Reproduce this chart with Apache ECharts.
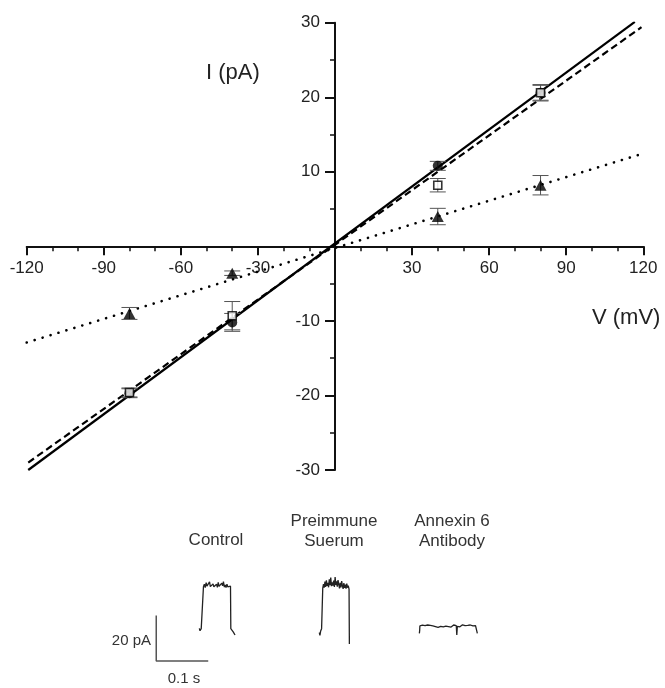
<!DOCTYPE html>
<html>
<head>
<meta charset="utf-8">
<script src="https://cdn.jsdelivr.net/npm/echarts@6/dist/echarts.min.js"></script>
<style>
html,body{margin:0;padding:0;background:#fff;}
#chart{width:665px;height:688px;}
</style>
</head>
<body>
<div id="chart"></div>
<script>
// ---- I-V data (V in mV, I in pA) ----
const voltages = [-80, -40, 40, 80];
const controlI = [-19.7, -10.2, 10.8, 20.6];
const controlErr = [0.6, 1.2, 0.6, 1.0];
const preimmuneI = [-19.6, -9.3, 8.2, 20.6];
const preimmuneErr = [0.6, 1.9, 0.9, 1.1];
const antibodyI = [-9.0, -3.6, 4.0, 8.2];
const antibodyErr = [0.8, 0.3, 1.1, 1.3];

// linear fits (endpoints as drawn)
const fitControl = [[-119.4, -30.0], [116.7, 30.1]];
const fitPreimmune = [[-119.4, -29.0], [119.3, 29.4]];
const fitAntibody = [[-120.0, -12.9], [118.0, 12.25]];

// axis ranges
const xRange = [-120, 120];
const yRange = [-30, 30];

// ---- single-channel traces ([time s, current pA]) ----
const traceControl = [
  [0.0948, 0.3], [0.0962, -0.7], [0.0985, 0.2], [0.1005, -0.3], [0.1022, 0.1],
  [0.1028, 18.6], [0.1045, 19.8], [0.1062, 18.3], [0.1080, 20.4], [0.1095, 18.9],
  [0.1110, 19.6], [0.1128, 18.1], [0.1145, 20.8], [0.1160, 18.7], [0.1178, 19.3],
  [0.1195, 18.2], [0.1212, 19.9], [0.1228, 18.6], [0.1245, 19.1], [0.1262, 18.0],
  [0.1280, 19.7], [0.1296, 18.4], [0.1312, 20.6], [0.1328, 18.8], [0.1345, 19.5],
  [0.1362, 18.1], [0.1380, 20.2], [0.1396, 19.0], [0.1412, 20.9], [0.1430, 18.5],
  [0.1446, 19.4], [0.1462, 18.3], [0.1480, 19.8], [0.1496, 18.6], [0.1512, 19.2],
  [0.1530, 18.4], [0.1548, 18.9], [0.1554, 0.2], [0.1575, -0.4], [0.1600, -1.2],
  [0.1620, -2.0], [0.1635, -2.6]
];
const tracePreimmune = [
  [0.3256, -1.5], [0.3268, -2.8], [0.3282, -0.8], [0.3300, 0.2], [0.3315, -0.2],
  [0.3322, 18.0], [0.3336, 19.8], [0.3350, 18.2], [0.3364, 20.9], [0.3378, 18.6],
  [0.3392, 21.5], [0.3406, 19.0], [0.3420, 20.3], [0.3434, 18.4], [0.3448, 21.9],
  [0.3462, 19.3], [0.3476, 22.7], [0.3490, 18.9], [0.3504, 20.6], [0.3518, 19.1],
  [0.3532, 21.3], [0.3546, 18.5], [0.3560, 22.9], [0.3574, 19.4], [0.3588, 21.0],
  [0.3602, 18.7], [0.3616, 21.6], [0.3630, 19.8], [0.3644, 17.9], [0.3658, 20.4],
  [0.3672, 18.3], [0.3686, 21.1], [0.3700, 19.0], [0.3714, 17.7], [0.3728, 20.2],
  [0.3742, 18.1], [0.3756, 19.6], [0.3770, 17.8], [0.3784, 20.0], [0.3798, 18.2],
  [0.3812, 19.1], [0.3828, 17.6], [0.3834, -6.6]
];
const traceAntibody = [
  [0.5180, -1.9], [0.5186, -0.6], [0.5190, 1.4], [0.5215, 1.0], [0.5240, 1.7],
  [0.5265, 1.1], [0.5290, 1.5], [0.5315, 0.9], [0.5340, 1.8], [0.5365, 1.2],
  [0.5390, 1.6], [0.5415, 1.0], [0.5440, 1.4], [0.5465, 2.1], [0.5490, 1.1],
  [0.5515, 1.5], [0.5540, 0.8], [0.5565, 1.6], [0.5590, 1.2], [0.5615, 1.9],
  [0.5640, 1.0], [0.5665, 1.5], [0.5690, 1.3], [0.5715, 2.0], [0.5740, 1.1],
  [0.5765, 1.6], [0.5790, 0.9], [0.5815, 1.4], [0.5840, 1.8], [0.5865, 1.0],
  [0.5890, 1.5], [0.5900, -2.6], [0.5910, 1.2], [0.5935, 1.7], [0.5960, 1.0],
  [0.5985, 1.4], [0.6010, 1.9], [0.6035, 1.1], [0.6060, 1.5], [0.6085, 0.9],
  [0.6110, 1.6], [0.6135, 1.2], [0.6160, 1.8], [0.6185, 1.0], [0.6210, 1.4],
  [0.6235, 1.1], [0.6260, 1.5], [0.6280, 1.0], [0.6295, -1.9]
];
// scale bar: 0.1 s by 20 pA
const scaleBar = [[0.012, 6], [0.012, -14], [0.112, -14]];
const traceTimeRange = [0, 0.65];
const traceCurrentRange = [-18, 26];

const traceTitles = ['Control', 'Preimmune\nSuerum', 'Annexin 6\nAntibody'];

function errData(I, E) {
  return voltages.map((v, i) => [v, I[i] - E[i], I[i] + E[i]]);
}
function pts(I) {
  return voltages.map((v, i) => [v, I[i]]);
}
function errSeries(I, E) {
  return {
    type: 'custom', xAxisIndex: 0, yAxisIndex: 0, z: 3,
    data: errData(I, E),
    encode: { x: 0, y: [1, 2] },
    renderItem: function (params, api) {
      const x = api.value(0);
      const lo = api.coord([x, api.value(1)]);
      const hi = api.coord([x, api.value(2)]);
      const w = 8;
      const st = { stroke: '#555', lineWidth: 1 };
      return {
        type: 'group', children: [
          { type: 'line', shape: { x1: hi[0], y1: hi[1], x2: lo[0], y2: lo[1] }, style: st },
          { type: 'line', shape: { x1: hi[0] - w, y1: hi[1], x2: hi[0] + w, y2: hi[1] }, style: st },
          { type: 'line', shape: { x1: lo[0] - w, y1: lo[1], x2: lo[0] + w, y2: lo[1] }, style: st }
        ]
      };
    }
  };
}

// plot-area geometry
const G = { left: 26.7, right: 21.7, top: 22.7, bottom: 218 };
const W = 665, H = 688;
const plotW = W - G.left - G.right, plotH = H - G.top - G.bottom;
const zeroX = G.left + plotW * (0 - xRange[0]) / (xRange[1] - xRange[0]);
const zeroY = G.top + plotH * (yRange[1] - 0) / (yRange[1] - yRange[0]);

const chart = echarts.init(document.getElementById('chart'), null, { renderer: 'canvas' });
const labelFont = { fontFamily: 'Liberation Sans', fontSize: 17, color: '#222' };
const axisLineStyle = { color: '#111', width: 2 };

const traceTexts = [];
const titleX = [216, 334, 452];
traceTitles.forEach((t, i) => {
  const lines = t.split('\n');
  lines.forEach((ln, j) => {
    const y = lines.length === 1 ? 540 : 521 + j * 20;
    traceTexts.push({
      type: 'text', x: titleX[i], y: y,
      style: { text: ln, fontFamily: 'Liberation Sans', fontSize: 17, fill: '#333', textAlign: 'center', textVerticalAlign: 'middle' }
    });
  });
});

chart.setOption({
  animation: false,
  backgroundColor: '#fff',
  grid: [
    // 0: data plot area
    { left: G.left, right: G.right, top: G.top, bottom: G.bottom, containLabel: false, outerBoundsMode: 'none' },
    // 1: carries the V axis, bottom edge at I = 0
    { left: G.left, right: G.right, top: G.top, bottom: H - zeroY, containLabel: false, outerBoundsMode: 'none' },
    // 2: carries the I axis, left edge at V = 0
    { left: zeroX, right: G.right, top: G.top, bottom: G.bottom, containLabel: false, outerBoundsMode: 'none' },
    // 3: traces
    { left: 150, width: 338, top: 570, height: 100, containLabel: false, outerBoundsMode: 'none' }
  ],
  xAxis: [
    { type: 'value', gridIndex: 0, min: xRange[0], max: xRange[1], show: false },
    {
      type: 'value', gridIndex: 1, min: xRange[0], max: xRange[1], interval: 30, position: 'bottom',
      axisLine: { onZero: false, lineStyle: axisLineStyle },
      axisTick: { show: true, inside: false, length: 9, lineStyle: { color: '#111', width: 2 } },
      minorTick: { show: true, splitNumber: 3, length: 5, lineStyle: { color: '#111', width: 1.5 } },
      splitLine: { show: false }, minorSplitLine: { show: false },
      axisLabel: Object.assign({ margin: 13, formatter: v => (v === 0 ? '' : String(v)) }, labelFont)
    },
    { type: 'value', gridIndex: 2, min: 0, max: 1, show: false },
    { type: 'value', gridIndex: 3, min: traceTimeRange[0], max: traceTimeRange[1], show: false }
  ],
  yAxis: [
    { type: 'value', gridIndex: 0, min: yRange[0], max: yRange[1], show: false },
    { type: 'value', gridIndex: 1, min: 0, max: 1, show: false },
    {
      type: 'value', gridIndex: 2, min: yRange[0], max: yRange[1], interval: 10, position: 'left',
      axisLine: { onZero: false, lineStyle: axisLineStyle },
      axisTick: { show: true, inside: false, length: 10, lineStyle: { color: '#111', width: 2 } },
      minorTick: { show: true, splitNumber: 2, length: 5, lineStyle: { color: '#111', width: 1.5 } },
      splitLine: { show: false }, minorSplitLine: { show: false },
      axisLabel: Object.assign({ margin: 15, formatter: v => (v === 0 ? '' : String(v)) }, labelFont)
    },
    { type: 'value', gridIndex: 3, min: traceCurrentRange[0], max: traceCurrentRange[1], show: false }
  ],
  graphic: [
    { type: 'text', x: 206, y: 72.5, style: { text: 'I (pA)', fontFamily: 'Liberation Sans', fontSize: 22, fill: '#222', textVerticalAlign: 'middle' } },
    { type: 'text', x: 592, y: 318, style: { text: 'V (mV)', fontFamily: 'Liberation Sans', fontSize: 22, fill: '#222', textVerticalAlign: 'middle' } },
    { type: 'text', x: 151, y: 641, style: { text: '20 pA', fontFamily: 'Liberation Sans', fontSize: 15, fill: '#333', textAlign: 'right', textVerticalAlign: 'middle' } },
    { type: 'text', x: 184, y: 679, style: { text: '0.1 s', fontFamily: 'Liberation Sans', fontSize: 15, fill: '#333', textAlign: 'center', textVerticalAlign: 'middle' } }
  ].concat(traceTexts),
  series: [
    { type: 'line', xAxisIndex: 0, yAxisIndex: 0, data: fitControl, symbol: 'none', z: 2, lineStyle: { color: '#000', width: 2.2, type: 'solid' } },
    { type: 'line', xAxisIndex: 0, yAxisIndex: 0, data: fitPreimmune, symbol: 'none', z: 2, lineStyle: { color: '#000', width: 2.2, type: [7, 4] } },
    { type: 'line', xAxisIndex: 0, yAxisIndex: 0, data: fitAntibody, symbol: 'none', z: 2, lineStyle: { color: '#000', width: 2.6, type: [0.1, 8.2], cap: 'round' } },
    errSeries(controlI, controlErr),
    errSeries(preimmuneI, preimmuneErr),
    errSeries(antibodyI, antibodyErr),
    { type: 'scatter', xAxisIndex: 0, yAxisIndex: 0, data: pts(controlI), symbol: 'circle', symbolSize: 10, z: 4, itemStyle: { color: '#000' } },
    { type: 'scatter', xAxisIndex: 0, yAxisIndex: 0, data: pts(preimmuneI), symbol: 'rect', symbolSize: 8, z: 5, itemStyle: { color: '#fff', borderColor: '#000', borderWidth: 1.6 } },
    { type: 'scatter', xAxisIndex: 0, yAxisIndex: 0, data: pts(antibodyI), symbol: 'triangle', symbolSize: [12, 11], z: 4, itemStyle: { color: '#000' } },
    { type: 'line', xAxisIndex: 3, yAxisIndex: 3, data: traceControl, symbol: 'none', lineStyle: { color: '#222', width: 1.3 } },
    { type: 'line', xAxisIndex: 3, yAxisIndex: 3, data: tracePreimmune, symbol: 'none', lineStyle: { color: '#222', width: 1.3 } },
    { type: 'line', xAxisIndex: 3, yAxisIndex: 3, data: traceAntibody, symbol: 'none', lineStyle: { color: '#222', width: 1.3 } },
    { type: 'line', xAxisIndex: 3, yAxisIndex: 3, data: scaleBar, symbol: 'none', lineStyle: { color: '#555', width: 1.5 } }
  ]
});
</script>
</body>
</html>
